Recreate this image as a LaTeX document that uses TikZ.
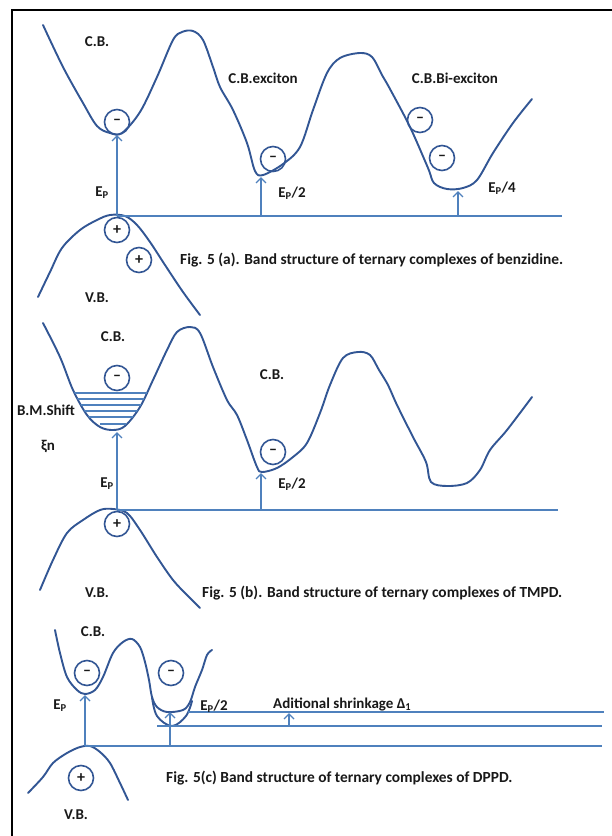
\documentclass[tikz,border=0pt]{standalone}
\usepackage{fontspec}
\setmainfont{Carlito}
\usetikzlibrary{arrows.meta}
\definecolor{band}{RGB}{50,86,148}
\definecolor{lvl}{RGB}{79,129,189}
\definecolor{txt}{RGB}{25,25,25}
\begin{document}
\begin{tikzpicture}[x=1pt,y=-1pt,
  bandline/.style={band,line width=1.9pt,line join=round,line cap=round},
  lvlline/.style={lvl,line width=1.4pt},
  arr/.style={lvl,line width=1.8pt,-{Straight Barb[length=5pt,width=10pt,line width=1.4pt]}},
  carrier/.style={circle,draw=band,line width=1.6pt,minimum size=25pt,inner sep=0pt,font=\fontsize{16}{16}\selectfont\bfseries,text=txt},
  lbl/.style={font=\fontsize{15}{17}\selectfont\bfseries,text=txt,inner sep=0pt},
  figcap/.style={font=\fontsize{15.4}{17}\selectfont\bfseries,text=txt,inner sep=0pt,anchor=west}]
\useasboundingbox (0,0) rectangle (612,836);
\fill[white] (0,0) rectangle (612,836);
% frame
\coordinate (f0) at (12,836);
\coordinate (f1) at (12,10);
\coordinate (f2) at (612,10);
\draw[black,line width=2pt] (f0) -- (f1) -- (f2);

% ================= panel (a)
\draw[bandline] plot[smooth,tension=0.55] coordinates {
 (43,25) (63,67) (83,103) (97,126) (110,133) (122,133) (140,112) (157,77) (173,40) (182,32) (193,31) (203,40) (213,67) (220,87) (233,110) (247,143) (255,171) (263,175) (283,164) (300,147) (313,110) (327,73) (340,58) (360,53) (372,57) (382,75) (390,89) (410,127) (428,168) (434,183) (447,189) (463,188) (477,180) (493,153) (513,123) (532,99)};
\draw[bandline] plot[smooth,tension=0.55] coordinates {
 (38,297) (50,272) (62,248) (80,230) (97,220) (110,215) (125,216) (137,225) (150,242) (165,265) (183,292) (200,315)};
\coordinate (a0) at (117,216);
\coordinate (a1) at (261,216);
\coordinate (a2) at (458,216);
\coordinate (aE) at (562,216);
\draw[lvlline] (a0) -- (aE);
\coordinate (a0t) at (117,135);
\coordinate (a1t) at (261,177);
\coordinate (a2t) at (458,191);
\draw[arr] (a0) -- (a0t);
\draw[arr] (a1) -- (a1t);
\draw[arr] (a2) -- (a2t);
\node[carrier] (ae1) at (117,122) {\raisebox{1pt}{–}};
\node[carrier] (ae2) at (273,159) {\raisebox{1pt}{–}};
\node[carrier] (ae3) at (420,120) {\raisebox{1pt}{–}};
\node[carrier] (ae4) at (442,158) {\raisebox{1pt}{–}};
\node[carrier] (ah1) at (117,230) {+};
\node[carrier] (ah2) at (139,260) {+};
\node[lbl] (acb) at (97,42) {C.B.};
\node[lbl] (acbx) at (263,78) {C.B.exciton};
\node[lbl] (acbb) at (455,78) {C.B.Bi-exciton};
\node[lbl] (aep) at (102,193) {E\textsubscript{P}};
\node[lbl] (aep2) at (292,193) {E\textsubscript{P}/2};
\node[lbl] (aep4) at (502,188) {E\textsubscript{P}/4};
\node[lbl] (avb) at (97,298) {V.B.};
\node[figcap] (acap) at (180,260) {Fig. 5 (a). Band structure of ternary complexes of benzidine.};

% ================= panel (b)
\draw[bandline] plot[smooth,tension=0.55] coordinates {
 (43,323) (60,357) (73,390) (87,415) (100,427) (113,430) (125,426) (140,407) (153,380) (167,350) (177,332) (190,327) (200,333) (213,367) (227,400) (237,415) (247,440) (257,467) (262,472) (277,468) (293,457) (307,443) (320,413) (330,385) (343,358) (358,352) (370,355) (379,370) (388,385) (397,405) (413,437) (426,462) (431,482) (447,486) (467,483) (480,470) (490,450) (507,430) (532,397)};
\begin{scope}
\clip plot[smooth,tension=0.55] coordinates {(60,357) (73,390) (87,415) (100,427) (113,430) (125,426) (140,407) (153,380)} -- cycle;
\foreach \yy in {393,399,405,411,417} \draw[lvl,line width=1.5pt] (60,\yy) -- (160,\yy);
\end{scope}
\coordinate (bs0) at (100,424);
\coordinate (bs1) at (126,424);
\draw[lvl,line width=1.5pt] (bs0) -- (bs1);
\draw[bandline] plot[smooth,tension=0.55] coordinates {
 (40,590) (53,560) (67,533) (83,520) (100,510) (113,509) (127,513) (140,530) (157,557) (173,580) (187,595) (200,608)};
\coordinate (b0) at (117,510);
\coordinate (b1) at (261,510);
\coordinate (bE) at (558,510);
\draw[lvlline] (b0) -- (bE);
\coordinate (b0t) at (117,432);
\coordinate (b1t) at (261,473);
\draw[arr] (b0) -- (b0t);
\draw[arr] (b1) -- (b1t);
\node[carrier] (be1) at (117,378) {\raisebox{1pt}{–}};
\node[carrier] (be2) at (273,452) {\raisebox{1pt}{–}};
\node[carrier] (bh1) at (117,524) {+};
\node[lbl] (bcb) at (113,337) {C.B.};
\node[lbl] (bcb2) at (272,375) {C.B.};
\node[lbl] (bbm) at (46,410) {B.M.Shift};
\node[lbl] (bxi) at (48,447) {ξn};
\node[lbl] (bep) at (107,484) {E\textsubscript{P}};
\node[lbl] (bep2) at (292,484) {E\textsubscript{P}/2};
\node[lbl] (bvb) at (97,593) {V.B.};
\node[figcap] (bcap) at (202,593) {Fig. 5 (b). Band structure of ternary complexes of TMPD.};

% ================= panel (c)
\draw[bandline] plot[smooth,tension=0.55] coordinates {
 (55,630) (60,653) (67,677) (77,690) (85,694) (95,690) (103,677) (113,653) (123,642) (132,639) (140,647) (145,662) (149,680) (152,697) (157,707) (167,712) (183,710) (190,702) (195,687) (202,670) (207,655) (212,650)};
\draw[bandline] plot[smooth,tension=0.6] coordinates {
 (152,697) (157,716) (172,726) (186,716) (192,701)};
\draw[bandline] plot[smooth,tension=0.55] coordinates {
 (28,793) (43,777) (53,763) (67,753) (80,747) (90,746) (100,752) (110,763) (120,783) (128,800)};
\coordinate (c1s) at (188,712);
\coordinate (c1e) at (604,712);
\coordinate (c2s) at (157,726);
\coordinate (c2e) at (602,726);
\coordinate (c3s) at (85,746);
\coordinate (c3e) at (602,746);
\draw[lvlline] (c1s) -- (c1e);
\draw[lvlline] (c2s) -- (c2e);
\draw[lvlline] (c3s) -- (c3e);
\coordinate (c0t) at (85,695);
\coordinate (c1b) at (170,746);
\coordinate (c1t) at (170,712);
\coordinate (c2b) at (289,726);
\coordinate (c2t) at (289,713);
\draw[arr] (c3s) -- (c0t);
\draw[arr] (c1b) -- (c1t);
\draw[arr] (c2b) -- (c2t);
\node[carrier] (ce1) at (87,673) {\raisebox{1pt}{–}};
\node[carrier] (ce2) at (171,673) {\raisebox{1pt}{–}};
\node[carrier] (ch1) at (81,778) {+};
\node[lbl] (ccb) at (93,632) {C.B.};
\node[lbl] (cep) at (60,706) {E\textsubscript{P}};
\node[lbl] (cep2) at (214,706) {E\textsubscript{P}/2};
\node[lbl,anchor=west] (cadd) at (273,704) {Aditional shrinkage Δ\textsubscript{1}};
\node[lbl] (cvb) at (76,815) {V.B.};
\node[figcap] (ccap) at (166,778) {Fig. 5(c) Band structure of ternary complexes of DPPD.};
\end{tikzpicture}
\end{document}
